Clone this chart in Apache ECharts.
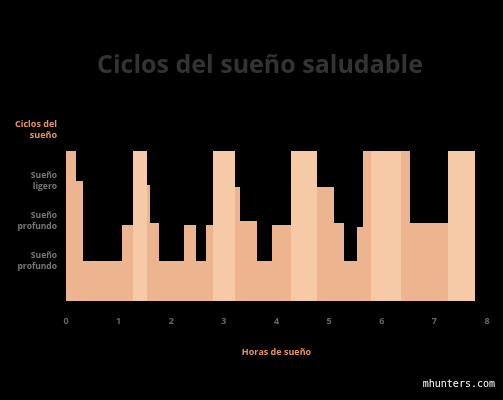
<!DOCTYPE html>
<html><head><meta charset="utf-8">
<script src="https://cdn.jsdelivr.net/npm/echarts@6/dist/echarts.min.js"></script>
<style>html,body{margin:0;padding:0;background:#000;}#c{width:503px;height:400px;}</style>
</head><body><div id="c"></div>
<script>
const segStart = [0,0.19,0.32,1.06,1.27,1.54,1.6,1.77,2.24,2.47,2.66,2.79,3.21,3.31,3.63,3.92,4.28,4.77,5.1,5.29,5.53,5.65,5.8,6.37,6.54,7.26];
const segEnd   = [0.19,0.32,1.06,1.27,1.54,1.6,1.77,2.24,2.47,2.66,2.79,3.21,3.31,3.63,3.92,4.28,4.77,5.1,5.29,5.53,5.65,5.8,6.37,6.54,7.26,7.78];
const segLevel = [3.75,3.0,1.0,1.9,3.75,2.9,1.95,1.0,1.9,1.0,1.9,3.75,2.85,2.0,1.0,1.9,3.75,2.85,1.95,1.0,1.85,3.75,3.75,3.75,1.95,3.75];
const segRem   = [0,0,0,0,1,0,0,0,0,0,0,1,0,0,0,0,1,0,0,0,0,0,1,0,0,1];
const remLabelX = [1.41,3.0,4.52,6.1,7.52];
const yTickLabels = {1:'Sueño\nprofundo',2:'Sueño\nprofundo',3:'Sueño\nligero'};

const segData = segStart.map((s,i)=>[s,segEnd[i],segLevel[i],segRem[i]]);
const chart = echarts.init(document.getElementById('c'));
chart.setOption({
  backgroundColor:'#000',
  grid:{left:66,right:16,top:151,bottom:99},
  xAxis:{type:'value',min:0,max:8,interval:1,
    name:'Horas de sueño',nameLocation:'middle',nameGap:47,
    nameTextStyle:{color:'#e8935f',fontSize:9,fontWeight:'bold',fontFamily:'Open Sans'},
    axisLine:{show:false},axisTick:{show:false},splitLine:{show:false},
    axisLabel:{color:'#666',fontSize:9,fontWeight:'bold',margin:16,fontFamily:'Open Sans'}},
  yAxis:{type:'value',min:0,max:3.75,interval:1,
    axisLine:{show:false},axisTick:{show:false},splitLine:{show:false},
    axisLabel:{color:'#777',fontSize:8.5,fontWeight:'bold',lineHeight:11,margin:9,fontFamily:'Open Sans',
      formatter:v=>yTickLabels[v]||''}},
  graphic:[
    {type:'text',x:260,y:53,style:{text:'Ciclos del sueño saludable',fill:'#333',font:'bold 25px Open Sans',align:'center'}},
    {type:'text',x:57,y:119,style:{text:'Ciclos del\nsueño',fill:'#e8935f',font:'bold 9px Open Sans',align:'right',lineHeight:11}},
    {type:'text',right:8,bottom:11,style:{text:'mhunters.com',fill:'#fff',font:'10px DejaVu Sans Mono'}}
  ],
  series:[
    {type:'custom',data:segData,encode:{x:[0,1],y:2},
     renderItem:(p,api)=>{
       const a=api.coord([api.value(0),api.value(2)]);
       const b=api.coord([api.value(1),0]);
       const x0=Math.round(a[0]), x1=Math.round(b[0]), y0=Math.round(a[1]), y1=Math.round(b[1]);
       const c=api.value(3)?'#f6caa6':'#ecb48f';
       return {type:'rect',shape:{x:x0,y:y0,width:x1-x0,height:y1-y0},style:{fill:c}};
     }},
    {type:'scatter',symbolSize:0,data:remLabelX.map(x=>[x,4.23]),
     label:{show:true,position:'inside',formatter:'REM',color:'#666',fontSize:8.5,fontWeight:'bold',fontFamily:'Open Sans'}}
  ]
});
</script></body></html>
